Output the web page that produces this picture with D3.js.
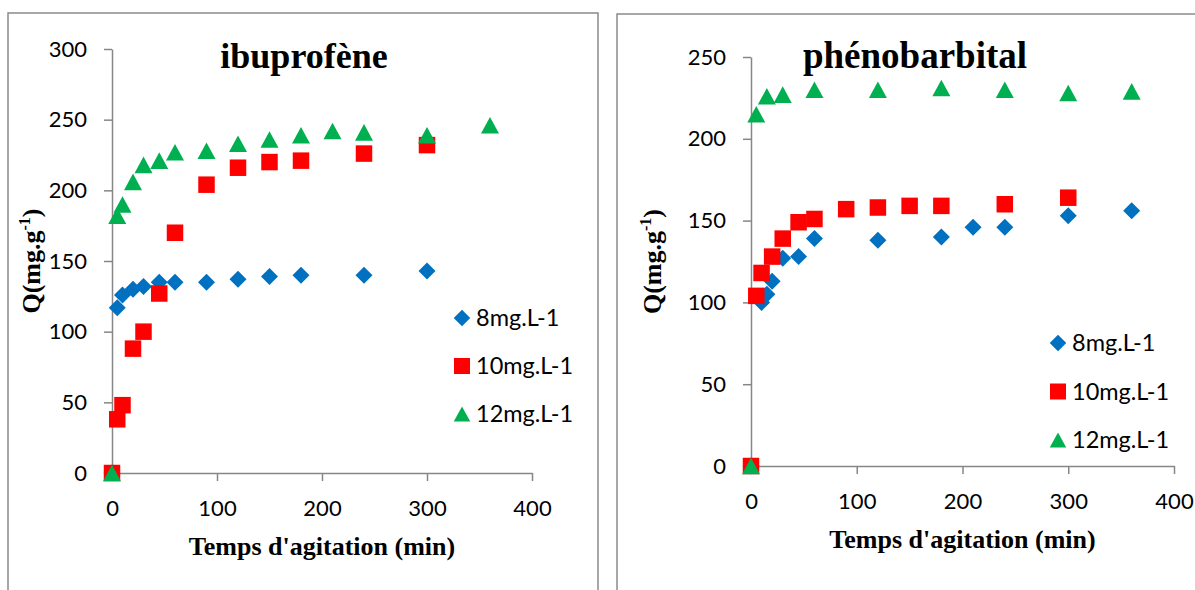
<!DOCTYPE html>
<html>
<head>
<meta charset="utf-8">
<script src="https://cdn.jsdelivr.net/npm/d3@7"></script>
<style>
  body { margin: 0; background: #fff; }
  svg { display: block; }
</style>
</head>
<body>
<div id="chart"></div>
<script>
// ibuprofène: times (min) and adsorbed quantity Q (mg/g)
const ibuTime8 = [0, 5, 10, 20, 30, 45, 60, 90, 120, 150, 180, 240, 300];
const ibuQ8 = [0, 117, 126, 130, 132, 135, 135, 135, 137, 139, 140, 140, 143];
const ibuTime10 = [0, 5, 10, 20, 30, 45, 60, 90, 120, 150, 180, 240, 300];
const ibuQ10 = [0, 38, 48, 88, 100, 127, 170, 204, 216, 220, 221, 226, 232];
const ibuTime12 = [0, 5, 10, 20, 30, 45, 60, 90, 120, 150, 180, 210, 240, 300, 360];
const ibuQ12 = [0, 182, 190, 206, 218, 221, 227, 228, 233, 236, 239, 242, 241, 239, 246];

// phénobarbital
const phenoTime8 = [0, 10, 15, 20, 30, 45, 60, 120, 180, 210, 240, 300, 360];
const phenoQ8 = [0, 100, 105, 113, 127, 128, 139, 138, 140, 146, 146, 153, 156];
const phenoTime10 = [0, 5, 10, 20, 30, 45, 60, 90, 120, 150, 180, 240, 300];
const phenoQ10 = [0, 104, 118, 128, 139, 149, 151, 157, 158, 159, 159, 160, 164];
const phenoTime12 = [0, 5, 15, 30, 60, 120, 180, 240, 300, 360];
const phenoQ12 = [0, 215, 226, 227, 230, 230, 231, 230, 228, 229];

const seriesNames = ['8mg.L-1', '10mg.L-1', '12mg.L-1'];
const xTicks = [0, 100, 200, 300, 400];
const ibuYTicks = [0, 50, 100, 150, 200, 250, 300];
const phenoYTicks = [0, 50, 100, 150, 200, 250];

const COLORS = ['#0070C0', '#FF0000', '#00B050'];
const AXIS_COLOR = '#868686';

// Excel-like marker shapes (size = bounding width squared)
const diamondSym = {
  draw(ctx, size) {
    const r = Math.sqrt(size) / 2;
    ctx.moveTo(0, -r); ctx.lineTo(r, 0); ctx.lineTo(0, r); ctx.lineTo(-r, 0); ctx.closePath();
  },
};
const squareSym = {
  draw(ctx, size) {
    const r = Math.sqrt(size) / 2;
    ctx.rect(-r, -r, 2 * r, 2 * r);
  },
};
const triangleSym = {
  draw(ctx, size) {
    const w = Math.sqrt(size);
    const h = w * 0.92;
    ctx.moveTo(0, -h / 2); ctx.lineTo(w / 2, h / 2); ctx.lineTo(-w / 2, h / 2); ctx.closePath();
  },
};
const SYMBOLS = [diamondSym, squareSym, triangleSym];
const SYM_SIZES = [17 * 17, 16.5 * 16.5, 18 * 18];

const zip = (ts, qs) => ts.map((t, i) => ({ t, q: qs[i] }));

const panels = [
  {
    title: 'ibuprofène',
    box: [8, 13, 598],
    x: [112, 532],
    y: [473, 49],
    yMax: 300,
    yTicks: ibuYTicks,
    titleX: 304,
    titleSize: 36,
    xTitleY: 555,
    yTitleX: 40,
    legend: [462, 318, 48],
    series: [zip(ibuTime8, ibuQ8), zip(ibuTime10, ibuQ10), zip(ibuTime12, ibuQ12)],
  },
  {
    title: 'phénobarbital',
    box: [617, 14, 1200],
    x: [751, 1174],
    y: [466, 57],
    yMax: 250,
    yTicks: phenoYTicks,
    titleX: 915,
    titleSize: 37,
    xTitleY: 548,
    yTitleX: 661,
    legend: [1058, 343, 48.5],
    series: [zip(phenoTime8, phenoQ8), zip(phenoTime10, phenoQ10), zip(phenoTime12, phenoQ12)],
  },
];

const width = 1195;
const height = 590;

const svg = d3
  .select('#chart')
  .append('svg')
  .attr('width', width)
  .attr('height', height)
  .style('background', '#fff');

panels.forEach((p) => {
  const g = svg.append('g');

  // Panel frame (runs off the bottom of the picture)
  g.append('rect')
    .attr('x', p.box[0])
    .attr('y', p.box[1])
    .attr('width', p.box[2] - p.box[0])
    .attr('height', 700)
    .attr('fill', 'none')
    .attr('stroke', '#8a8a8a')
    .attr('stroke-width', 1.5);

  const xscale = d3.scaleLinear().domain([0, 400]).range(p.x);
  const yscale = d3.scaleLinear().domain([0, p.yMax]).range(p.y);

  const xAxis = d3.axisBottom(xscale).tickValues(xTicks).tickSize(8).tickSizeOuter(0).tickPadding(19);
  const yAxis = d3.axisLeft(yscale).tickValues(p.yTicks).tickSize(8).tickSizeOuter(0).tickPadding(17);

  const gx = g.append('g').attr('transform', `translate(0, ${p.y[0]})`).call(xAxis);
  const gy = g.append('g').attr('transform', `translate(${p.x[0]}, 0)`).call(yAxis);

  [gx, gy].forEach((ax) => {
    ax.select('.domain').attr('stroke', AXIS_COLOR).attr('stroke-width', 1.5);
    ax.selectAll('.tick line').attr('stroke', AXIS_COLOR).attr('stroke-width', 1.5);
    ax.selectAll('.tick text')
      .attr('fill', '#000')
      .style('font-family', 'Lato, "Open Sans", sans-serif')
      .style('font-size', '22px');
  });

  // Chart title
  g.append('text')
    .attr('x', p.titleX)
    .attr('y', 68)
    .attr('text-anchor', 'middle')
    .style('font-family', '"Liberation Serif", "Times New Roman", serif')
    .style('font-weight', 700)
    .style('font-size', `${p.titleSize}px`)
    .text(p.title);

  // Axis titles
  g.append('text')
    .attr('x', (p.x[0] + p.x[1]) / 2)
    .attr('y', p.xTitleY)
    .attr('text-anchor', 'middle')
    .style('font-family', '"Liberation Serif", "Times New Roman", serif')
    .style('font-weight', 700)
    .style('font-size', '26px')
    .text("Temps d'agitation (min)");

  const yTitle = g
    .append('text')
    .attr('transform', `translate(${p.yTitleX}, ${(p.y[0] + p.y[1]) / 2}) rotate(-90)`)
    .attr('text-anchor', 'middle')
    .style('font-family', '"Liberation Serif", "Times New Roman", serif')
    .style('font-weight', 700)
    .style('font-size', '26px');
  yTitle.append('tspan').text('Q(mg.g');
  yTitle.append('tspan').attr('dy', -10).style('font-size', '16px').text('-1');
  yTitle.append('tspan').attr('dy', 10).text(')');

  // Data markers, drawn series by series (8, 10, 12 mg/L)
  p.series.forEach((data, si) => {
    const sym = d3.symbol().type(SYMBOLS[si]).size(SYM_SIZES[si]);
    g.append('g')
      .selectAll('path')
      .data(data)
      .enter()
      .append('path')
      .attr('d', sym)
      .attr('transform', (d) => `translate(${xscale(d.t)}, ${yscale(d.q)})`)
      .attr('fill', COLORS[si]);
  });

  // Legend
  const [lx, ly, lstep] = p.legend;
  seriesNames.forEach((name, si) => {
    const sym = d3.symbol().type(SYMBOLS[si]).size(si === 1 ? 16 * 16 : 16.5 * 16.5);
    g.append('path')
      .attr('d', sym)
      .attr('transform', `translate(${lx}, ${ly + si * lstep})`)
      .attr('fill', COLORS[si]);
    g.append('text')
      .attr('x', lx + 14)
      .attr('y', ly + si * lstep)
      .attr('dy', '0.36em')
      .style('font-family', 'Lato, "Open Sans", sans-serif')
      .style('font-size', '23.5px')
      .text(name);
  });
});
</script>
</body>
</html>
